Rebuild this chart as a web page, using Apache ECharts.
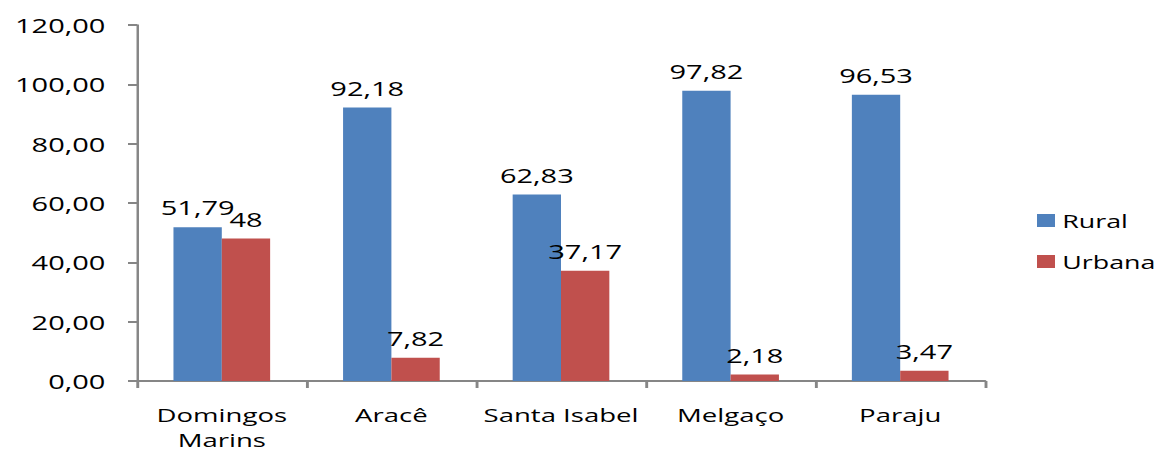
<!DOCTYPE html>
<html>
<head>
<meta charset="utf-8">
<script src="https://cdn.jsdelivr.net/npm/echarts@6/dist/echarts.min.js"></script>
<style>
html,body{margin:0;padding:0;background:#fff;}
#wrap{width:1163px;height:451px;overflow:hidden;position:relative;}
#c{height:451px;transform-origin:0 0;}
</style>
</head>
<body>
<div id="wrap"><div id="c"></div></div>
<script>
const categories = ['Domingos\nMarins', 'Aracê', 'Santa Isabel', 'Melgaço', 'Paraju'];
const rural = [51.79, 92.18, 62.83, 97.82, 96.53];
const urbana = [48, 7.82, 37.17, 2.18, 3.47];
const seriesNames = ['Rural', 'Urbana'];
const yTicks = { min: 0, max: 120, interval: 20 };

// the reference is horizontally stretched; draw narrower then stretch
const S = 1.45;
const W = 1163 / S;
const el = document.getElementById('c');
el.style.width = W + 'px';
el.style.transform = 'scaleX(' + S + ')';

const FONT = 'Open Sans';
const fmtAxis = v => v.toFixed(2).replace('.', ',');
const fmtLabel = p => Number.isInteger(p.value) ? String(p.value) : p.value.toFixed(2).replace('.', ',');

const chart = echarts.init(el, null, { renderer: 'svg', width: W, height: 451 });
chart.setOption({
  animation: false,
  backgroundColor: '#fff',
  textStyle: { fontFamily: FONT },
  grid: { left: 137 / S, right: 178 / S, top: 25, bottom: 70, containLabel: false, outerBoundsMode: 'none' },
  legend: {
    orient: 'vertical',
    left: 1037 / S,
    top: 211,
    padding: 0,
    itemWidth: 18 / S,
    itemHeight: 13,
    itemGap: 22,
    icon: 'rect',
    textStyle: { fontFamily: FONT, fontSize: 18.5, color: '#000' },
    data: seriesNames
  },
  xAxis: {
    type: 'category',
    data: categories,
    axisLine: { lineStyle: { color: '#868686', width: 2 } },
    axisTick: { show: true, length: 7, lineStyle: { color: '#868686', width: 2 } },
    axisLabel: { interval: 0, color: '#000', fontFamily: FONT, fontSize: 19, lineHeight: 25, margin: 21 }
  },
  yAxis: {
    type: 'value',
    min: yTicks.min, max: yTicks.max, interval: yTicks.interval,
    axisLine: { show: true, lineStyle: { color: '#868686', width: 1.7 } },
    axisTick: { show: true, length: 9 / S, lineStyle: { color: '#868686', width: 2 } },
    splitLine: { show: false },
    axisLabel: { color: '#000', fontFamily: FONT, fontSize: 20, margin: 20 / S + 8, formatter: fmtAxis }
  },
  series: [
    {
      name: seriesNames[0], type: 'bar', data: rural,
      barGap: 0, barCategoryGap: '43%',
      itemStyle: { color: '#4F81BD' },
      label: { show: true, position: 'top', distance: 10, color: '#000', fontFamily: FONT, fontSize: 20, formatter: fmtLabel }
    },
    {
      name: seriesNames[1], type: 'bar', data: urbana,
      barGap: 0, barCategoryGap: '43%',
      itemStyle: { color: '#C0504D' },
      label: { show: true, position: 'top', distance: 10, color: '#000', fontFamily: FONT, fontSize: 20, formatter: fmtLabel }
    }
  ]
});
</script>
</body>
</html>
